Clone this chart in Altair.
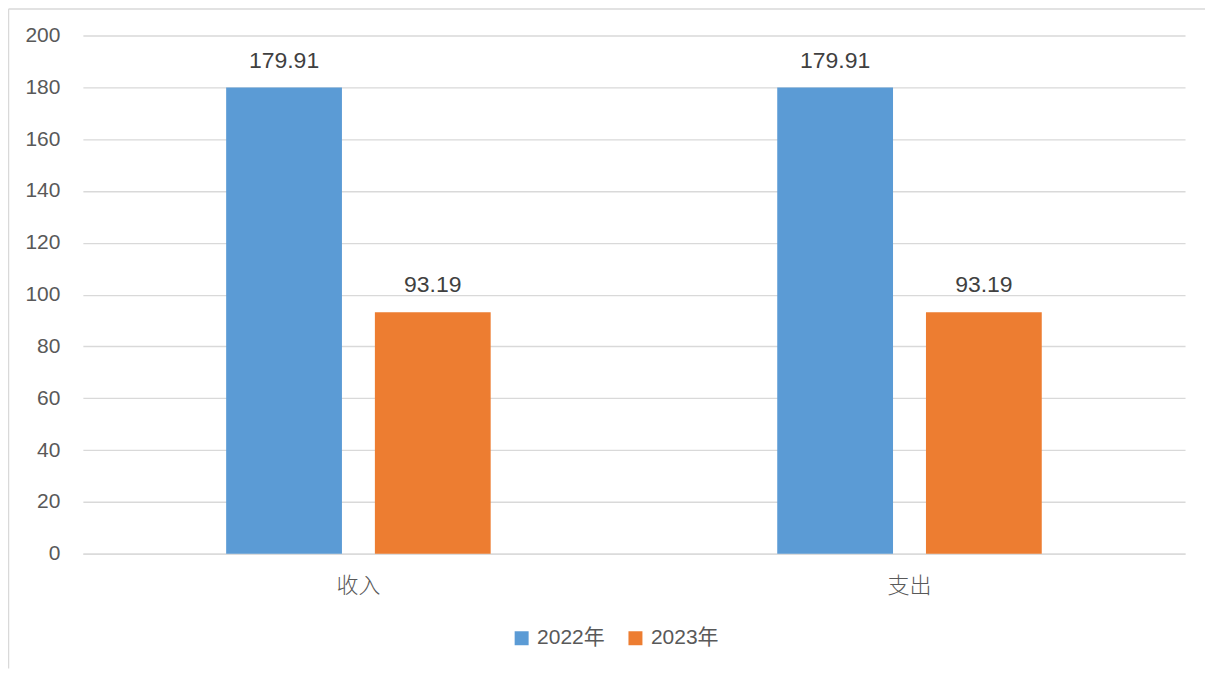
import altair as alt
import pandas as pd

categories = ["收入", "支出"]
years = ["2022年", "2023年"]
values_2022 = [179.91, 179.91]
values_2023 = [93.19, 93.19]
colors = ["#5B9BD5", "#ED7D31"]

rows = []
for i, c in enumerate(categories):
    rows.append({"category": c, "year": years[0], "value": values_2022[i]})
    rows.append({"category": c, "year": years[1], "value": values_2023[i]})
df = pd.DataFrame(rows)

NUM_FONT = "Liberation Sans, Noto Sans CJK SC"
CJK_FONT = "Noto Sans CJK SC"

x_enc = alt.X("category:N", sort=categories,
              scale=alt.Scale(paddingInner=0.52, paddingOuter=0.26),
              axis=alt.Axis(title=None, labelAngle=0, ticks=False, domain=True,
                            domainColor="#d9d9d9", domainWidth=1.3,
                            labelFont=CJK_FONT, labelFontSize=22, labelFontWeight=300,
                            labelColor="#595959", labelPadding=22, grid=False))
xo_enc = alt.XOffset("year:N", sort=years,
                     scale=alt.Scale(paddingInner=0.2215, paddingOuter=0))
y_enc = alt.Y("value:Q", scale=alt.Scale(domain=[0, 200], nice=False),
              axis=alt.Axis(title=None, values=list(range(0, 201, 20)), ticks=False,
                            domain=False, gridColor="#d9d9d9", gridWidth=1.3,
                            labelFont=NUM_FONT, labelFontSize=21, labelColor="#595959",
                            labelPadding=23))

bars = alt.Chart(df).mark_bar().encode(
    x=x_enc, xOffset=xo_enc, y=y_enc,
    color=alt.Color("year:N", sort=years,
                    scale=alt.Scale(domain=years, range=colors),
                    legend=alt.Legend(title=None, orient="none", direction="horizontal",
                                      legendX=429, legendY=593, symbolType="square",
                                      symbolSize=196, symbolStrokeWidth=0,
                                      labelFont=NUM_FONT, labelFontSize=21,
                                      labelColor="#595959", labelOffset=5,
                                      columnPadding=20, padding=0))
)

labels = alt.Chart(df).mark_text(
    font=NUM_FONT, fontSize=23, color="#404040", baseline="alphabetic", dy=-20
).encode(
    x=alt.X("category:N", sort=categories), xOffset=alt.XOffset("year:N", sort=years),
    y="value:Q", text=alt.Text("value:Q", format=".2f")
)

frame_data = alt.Data(values=[{"k": 1}])
frame_v = alt.Chart(frame_data).mark_rule(color="#d9d9d9", strokeWidth=1.5).encode(
    x=alt.value(-74.5), y=alt.value(-26.5), y2=alt.value(634))
frame_h = alt.Chart(frame_data).mark_rule(color="#d9d9d9", strokeWidth=1.5).encode(
    x=alt.value(-74.5), x2=alt.value(1124), y=alt.value(-26.5))

chart = alt.layer(bars, labels, frame_v, frame_h).properties(
    width=1104, height=519,
    background="white",
    autosize=alt.AutoSizeParams(type="none"),
    padding={"left": 75, "top": 27, "right": 20, "bottom": 115}
).configure_view(strokeWidth=0)

chart.save("out.html", embed_options={"renderer": "svg", "actions": False})
